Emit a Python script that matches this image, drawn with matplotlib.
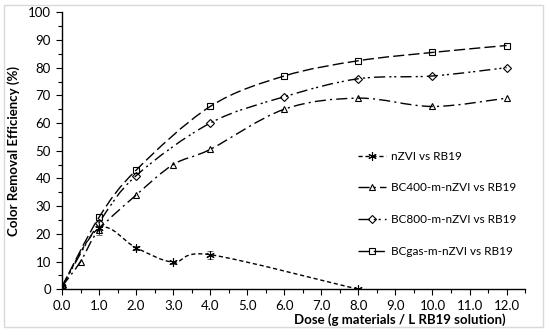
import numpy as np
import matplotlib
matplotlib.use("Agg")
import matplotlib.pyplot as plt
from matplotlib.path import Path
import matplotlib.patches as patches
from matplotlib.lines import Line2D

plt.rcParams['font.family'] = ['Lato', 'DejaVu Sans']

###############################################################################
# Data
nzvi_x = [0, 1, 2, 3, 4, 8]
nzvi_y = [1, 22, 15, 9.8, 12.5, 0]
nzvi_err = [0.5, 2.5, 0.8, 0.5, 1.5, 0.3]

bc400_x = [0, 0.5, 1, 2, 3, 4, 6, 8, 10, 12]
bc400_y = [1, 10, 21.5, 34, 45, 50.5, 65, 69, 66, 69]

bc800_x = [0, 1, 2, 4, 6, 8, 10, 12]
bc800_y = [1, 24, 41, 60, 69.5, 76, 77, 80]

bcgas_x = [0, 1, 2, 4, 6, 8, 10, 12]
bcgas_y = [1, 26, 43, 66, 77, 82.5, 85.5, 88]

labels = ["nZVI vs RB19", "BC400-m-nZVI vs RB19",
          "BC800-m-nZVI vs RB19", "BCgas-m-nZVI vs RB19"]

###############################################################################
# Excel-like smoothed line through the points (cubic bezier segments)
def smooth_path(x, y):
    pts = np.column_stack([x, y]).astype(float)
    n = len(pts)
    verts = [pts[0]]
    codes = [Path.MOVETO]
    for i in range(n - 1):
        p0 = pts[i - 1] if i > 0 else pts[i]
        p1 = pts[i]
        p2 = pts[i + 1]
        p3 = pts[i + 2] if i + 2 < n else pts[i + 1]
        c1 = p1 + (p2 - p0) / 6.0
        c2 = p2 - (p3 - p1) / 6.0
        verts += [c1, c2, p2]
        codes += [Path.CURVE4] * 3
    return Path(verts, codes)


def plot_series(ax, x, y, dashes, marker, ms):
    path = smooth_path(x, y)
    line = patches.PathPatch(path, fill=False, edgecolor="black", lw=1.0,
                             linestyle=(0, dashes), zorder=2)
    ax.add_patch(line)
    ax.plot(x, y, linestyle="none", marker=marker, ms=ms, mfc="none",
            mec="black", mew=0.8, zorder=3)

###############################################################################
fig = plt.figure(figsize=(5.5, 3.35), dpi=100)
ax = fig.add_axes([0.1127, 0.1364, 0.842, 0.827])

styles = [
    ((3, 2), (6, 2, 0), 6),
    ((8, 3, 1.5, 3), "^", 5),
    ((8, 3, 1.5, 2, 1.5, 3), "D", 4),
    ((8, 3), "s", 5),
]

plot_series(ax, nzvi_x, nzvi_y, *styles[0])
ax.errorbar(nzvi_x, nzvi_y, yerr=nzvi_err, fmt="none", ecolor="#555555",
            elinewidth=0.6, capsize=2.5, capthick=0.6, zorder=2)
plot_series(ax, bc400_x, bc400_y, *styles[1])
plot_series(ax, bc800_x, bc800_y, *styles[2])
plot_series(ax, bcgas_x, bcgas_y, *styles[3])

ax.set_xlim(0, 12.5)
ax.set_ylim(0, 100)
ax.set_xticks(np.arange(0, 13, 1.0))
ax.set_xticklabels(["%.1f" % v for v in np.arange(0, 13, 1.0)])
ax.set_xticks(np.arange(0, 12.6, 0.5), minor=True)
ax.set_yticks(np.arange(0, 101, 10))
ax.set_yticks(np.arange(0, 101, 5), minor=True)

for side in ["top", "right"]:
    ax.spines[side].set_visible(False)
for side in ["left", "bottom"]:
    ax.spines[side].set_linewidth(1.0)
ax.tick_params(which="major", direction="out", length=4, width=0.8,
               labelsize=9.5, color="black", pad=4)
ax.tick_params(which="minor", direction="out", length=3, width=0.8)

ax.set_xlabel("Dose (g materials / L RB19 solution)", fontsize=9.5,
              fontweight="bold", ha="right")
ax.xaxis.set_label_coords(0.957, -0.085)
ax.set_ylabel("Color Removal Efficiency (%)", fontsize=9.5,
              fontweight="bold", labelpad=6)

handles = []
for dashes, marker, ms in styles:
    handles.append(Line2D([], [], color="black", lw=1.0,
                          linestyle=(0, dashes), marker=marker, ms=ms,
                          mfc="none", mec="black", mew=0.8))
ax.legend(handles, labels, loc="upper left", bbox_to_anchor=(0.639, 0.5),
          frameon=False, fontsize=8.5, handlelength=2.4, labelspacing=1.75,
          handletextpad=0.4, borderpad=0, borderaxespad=0)

# Light border around the whole chart
fig.patches.append(patches.Rectangle((4 / 550, 8 / 335), 539 / 550, 322 / 335,
                                     transform=fig.transFigure, fill=False,
                                     edgecolor="#d9d9d9", lw=1.0))

fig.savefig("out.png", dpi=100)
